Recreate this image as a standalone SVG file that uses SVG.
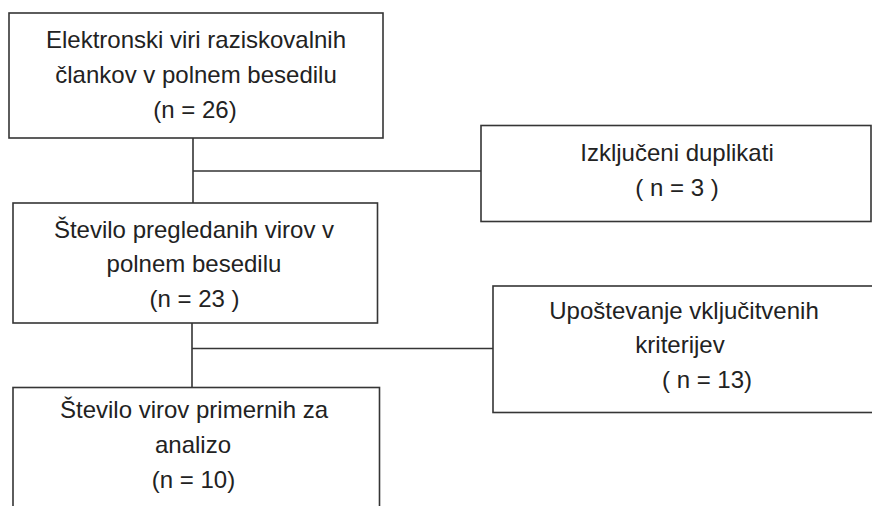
<svg xmlns="http://www.w3.org/2000/svg" width="872" height="506" viewBox="0 0 872 506">
<style>
.box{fill:#ffffff;stroke:#353535;stroke-width:1.6}
.t{font-family:"Liberation Sans",Arial,sans-serif;font-size:24px;fill:#222222;text-anchor:middle}
.c{fill:none;stroke:#353535;stroke-width:1.6}
</style>
<rect width="872" height="506" fill="#ffffff"/>
<g id="connectors">
<path class="c" d="M193 138 V203 M193 171 H481"/>
<path class="c" d="M192 323 V387 M192 348.5 H493"/>
</g>
<g id="n1">
<rect class="box" x="9" y="13" width="374" height="125"/>
<text class="t" x="196" y="48">Elektronski viri raziskovalnih</text>
<text class="t" x="196" y="83">člankov v polnem besedilu</text>
<text class="t" x="195" y="118">(n = 26)</text>
</g>
<g id="n2">
<rect class="box" x="481" y="125.5" width="390" height="96"/>
<text class="t" x="677" y="161">Izključeni duplikati</text>
<text class="t" x="677" y="196">( n = 3 )</text>
</g>
<g id="n3">
<rect class="box" x="13" y="203" width="364.5" height="120"/>
<text class="t" x="194" y="238">Število pregledanih virov v</text>
<text class="t" x="194" y="272">polnem besedilu</text>
<text class="t" x="194.5" y="307">(n = 23 )</text>
</g>
<g id="n4">
<rect class="box" x="493" y="286" width="390" height="126.5"/>
<text class="t" x="684" y="319">Upoštevanje vključitvenih</text>
<text class="t" x="680" y="353">kriterijev</text>
<text class="t" x="707" y="388">( n = 13)</text>
</g>
<g id="n5">
<rect class="box" x="13" y="387.5" width="366.5" height="140"/>
<text class="t" x="194" y="418">Število virov primernih za</text>
<text class="t" x="193" y="453">analizo</text>
<text class="t" x="193.5" y="488">(n = 10)</text>
</g>
</svg>
